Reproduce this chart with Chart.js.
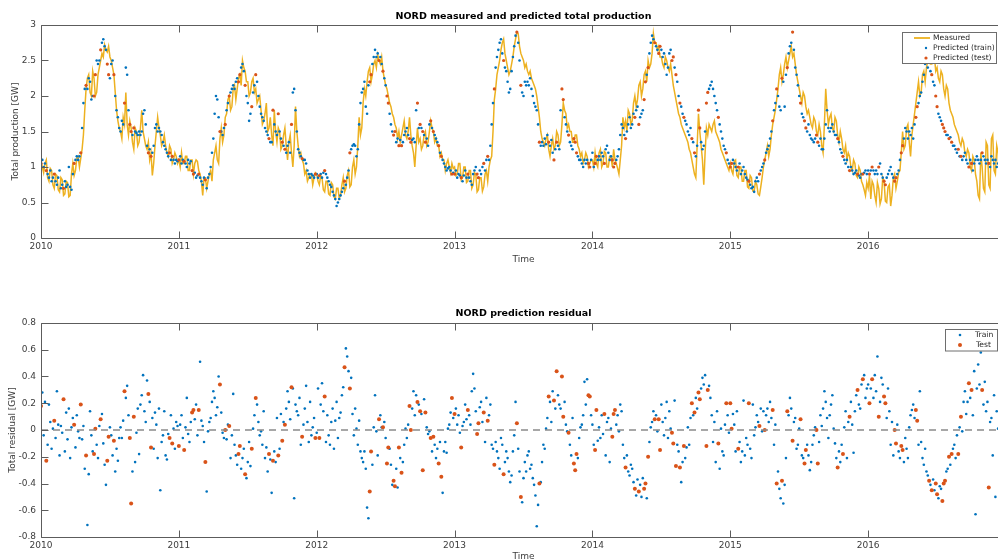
<!DOCTYPE html>
<html><head><meta charset="utf-8">
<script src="https://cdn.jsdelivr.net/npm/chart.js@4/dist/chart.umd.min.js"></script>
<style>
html,body{margin:0;padding:0;background:#fff;width:998px;height:560px;overflow:hidden;}
#wrap{position:relative;width:1012px;height:560px;}
canvas{display:block;position:absolute;left:0;}
#c1{top:0;}
#c2{top:280px;}
</style></head><body>
<div id="wrap"><canvas id="c1" width="1012" height="280"></canvas><canvas id="c2" width="1012" height="290"></canvas></div>
<script>
const START_YEAR = 2010;
const END_YEAR = 2017;
const MEASURED_PER_YEAR = 104;
const PREDICTED_PER_YEAR = 104;
const yearTicks = [2010, 2011, 2012, 2013, 2014, 2015, 2016, 2017];
const productionTicks = [0, 0.5, 1, 1.5, 2, 2.5, 3];
const residualTicks = [-0.8, -0.6, -0.4, -0.2, 0, 0.2, 0.4, 0.6, 0.8];

// measured total production [GW], twice per week, 2010..2016
const measured = [
1.08,1.0,0.92,1.05,1.1,0.85,0.8,0.98,0.95,0.75,0.7,0.9,0.88,0.68,0.65,0.85,0.82,0.6,0.62,0.8,0.78,0.58,0.6,0.9,1.05,0.88,0.95,1.12,1.15,1.0,1.12,1.25,1.45,1.8,2.1,2.25,2.3,2.05,2.0,2.35,2.25,2.0,2.05,2.3,2.4,2.5,2.6,2.55,2.72,2.65,2.62,2.7,2.55,2.5,2.4,2.3,2.05,1.8,1.65,1.55,1.5,1.4,1.7,1.6,2.05,1.6,1.45,1.65,1.55,1.35,1.25,1.55,1.5,1.3,1.35,1.55,1.8,1.5,1.4,1.3,1.25,1.35,1.1,1.2,0.88,1.05,1.3,1.5,1.7,1.55,1.45,1.3,1.35,1.45,1.3,1.2,1.15,1.3,1.25,1.05,1.1,1.2,1.15,1.05,
1.1,1.0,1.2,1.05,1.05,1.15,1.15,0.95,0.95,1.1,1.1,0.9,1.05,1.1,1.08,0.95,0.9,0.8,0.6,0.85,0.85,0.7,0.8,0.9,0.95,0.8,1.1,1.2,1.3,1.1,1.05,1.4,1.55,1.35,1.45,1.7,1.75,1.95,2.0,1.8,1.85,2.1,2.15,1.95,2.1,2.25,2.3,2.15,2.5,2.4,2.35,2.2,2.2,2.0,2.05,2.2,2.25,2.05,2.1,1.9,1.95,2.0,1.8,1.6,1.65,1.75,1.9,1.5,1.55,1.7,1.45,1.3,1.8,1.5,1.35,1.55,1.5,1.25,1.3,1.45,1.55,1.3,1.1,1.35,1.45,1.2,1.0,1.3,1.85,1.5,1.3,1.15,1.2,1.1,1.05,0.9,0.95,0.8,0.85,0.9,0.9,0.75,0.85,0.92,
0.9,0.8,0.75,0.88,0.85,0.68,0.65,0.8,0.8,0.62,0.6,0.78,0.75,0.58,0.55,0.7,0.7,0.56,0.6,0.75,0.85,0.65,0.7,0.88,0.95,0.72,0.75,1.0,1.1,0.9,1.0,1.3,1.7,1.45,1.55,1.9,2.1,2.0,2.2,2.35,2.4,2.2,2.3,2.45,2.5,2.4,2.58,2.5,2.45,2.55,2.35,2.25,2.15,2.1,2.0,1.9,1.85,1.75,1.7,1.6,1.55,1.4,1.5,1.35,1.45,1.55,1.65,1.45,1.4,1.5,1.7,1.45,1.3,1.2,1.0,1.3,1.55,1.35,1.4,1.25,1.3,1.45,1.5,1.3,1.35,1.5,1.65,1.55,1.5,1.35,1.4,1.3,1.3,1.15,1.2,1.1,1.1,0.95,1.05,1.1,1.0,0.92,1.05,0.98,
1.0,0.88,0.9,1.05,1.05,0.82,0.85,1.0,1.0,0.78,0.8,0.95,0.95,0.7,0.75,0.92,0.9,0.65,0.68,0.85,0.85,0.66,0.72,0.9,0.95,0.8,1.0,1.1,1.15,1.5,1.95,2.1,2.3,2.4,2.5,2.65,2.75,2.8,2.6,2.5,2.4,2.3,2.35,2.45,2.55,2.7,2.8,2.9,2.88,2.7,2.6,2.55,2.5,2.4,2.45,2.35,2.3,2.35,2.25,2.2,2.15,2.1,2.0,1.85,1.7,1.5,1.4,1.35,1.3,1.4,1.45,1.25,1.15,1.3,1.4,1.25,1.3,1.5,1.45,1.3,1.35,1.6,1.9,1.8,1.75,1.55,1.6,1.5,1.5,1.35,1.35,1.45,1.45,1.3,1.25,1.15,1.2,1.05,1.1,1.2,1.15,1.0,1.05,1.1,
1.1,1.0,1.2,1.05,1.0,1.2,1.25,1.0,1.05,1.22,1.2,1.0,1.0,1.15,1.15,1.0,1.25,1.1,1.05,0.98,0.9,1.1,1.3,1.7,1.55,1.65,1.5,1.8,1.75,1.6,1.65,1.9,2.0,1.85,1.95,2.15,2.2,2.0,2.1,2.3,2.35,2.2,2.5,2.4,2.45,2.6,2.88,2.75,2.75,2.65,2.7,2.55,2.55,2.45,2.4,2.55,2.5,2.4,2.35,2.45,2.3,2.15,2.05,1.95,1.85,1.75,1.7,1.6,1.55,1.5,1.45,1.4,1.35,1.25,1.2,1.1,1.0,0.9,0.85,1.3,1.75,1.5,1.3,1.1,0.75,1.2,1.55,1.45,1.6,1.55,1.5,1.6,1.65,1.5,1.45,1.4,1.35,1.25,1.2,1.15,1.1,1.05,1.0,0.95,
1.05,0.95,0.9,1.08,1.1,0.88,0.85,1.0,1.0,0.8,0.8,0.95,0.95,0.72,0.7,0.88,0.85,0.66,0.65,0.8,0.75,0.62,0.6,0.72,0.85,1.0,1.1,1.2,1.3,1.15,1.25,1.45,1.6,1.7,1.8,1.95,2.1,2.3,2.4,2.2,2.3,2.45,2.55,2.4,2.5,2.6,2.7,2.55,2.6,2.45,2.3,2.2,2.1,2.0,1.9,2.05,2.0,1.85,1.75,1.8,1.7,1.6,1.55,1.7,1.65,1.5,1.45,1.6,1.5,1.3,1.2,1.6,2.1,1.8,1.6,1.7,1.75,1.55,1.5,1.7,1.65,1.45,1.35,1.5,1.4,1.25,1.2,1.3,1.1,1.2,1.15,1.0,0.95,1.1,1.05,0.88,0.85,1.0,0.95,0.8,0.75,0.68,0.6,0.78,
0.7,0.88,0.55,0.8,0.75,0.6,0.5,0.78,0.7,0.48,0.55,0.85,0.8,0.52,0.5,0.72,0.75,0.45,0.6,0.85,0.9,0.7,0.8,0.92,0.95,1.2,1.5,1.25,1.3,1.55,1.6,1.35,1.15,1.45,1.6,1.75,1.9,2.05,2.2,2.0,2.05,2.3,2.35,2.2,2.4,2.5,2.6,2.45,2.45,2.6,2.55,2.35,2.4,2.25,2.2,2.35,2.3,2.1,2.0,2.15,2.1,1.9,1.8,1.75,1.7,1.6,1.55,1.5,1.45,1.35,1.3,1.4,1.35,1.2,1.15,1.25,1.2,1.0,0.95,1.15,1.1,0.9,0.8,0.6,0.55,1.2,1.0,0.7,0.65,1.35,1.3,0.75,0.7,1.4,1.45,0.95,0.9,1.3,1.2,0.8,0.85,1.1,1.0,1.15
];

// predicted total production [GW], twice per week, 2010..2016
const predicted = [
1.05,1.1,1.0,1.05,0.95,0.9,0.85,0.95,0.8,0.85,0.9,0.8,0.75,0.85,0.95,0.7,0.75,0.7,0.8,0.72,0.75,1.0,0.72,0.68,0.9,1.05,1.1,1.15,1.1,1.15,1.2,1.55,1.9,2.1,2.15,2.1,2.25,2.2,1.95,2.0,2.0,2.3,2.5,2.45,2.5,2.65,2.75,2.8,2.7,2.65,2.45,2.3,2.25,2.45,2.5,2.3,2.0,1.8,1.7,1.55,1.5,1.65,1.6,1.9,2.4,2.3,1.8,1.6,1.5,1.45,1.55,1.5,1.48,1.45,1.5,1.45,1.5,1.75,1.8,1.6,1.3,1.2,1.25,1.15,1.2,1.3,1.55,1.6,1.5,1.55,1.5,1.45,1.35,1.3,1.25,1.2,1.15,1.2,1.1,1.15,1.1,1.05,1.1,1.08,
1.1,1.15,1.05,1.1,1.08,1.05,1.0,1.1,1.05,1.08,0.95,0.9,0.92,0.85,0.88,0.9,0.85,0.8,0.75,0.85,0.82,0.7,0.85,0.9,1.0,1.2,1.4,1.75,2.0,1.95,1.7,1.5,1.5,1.45,1.55,1.6,1.8,1.9,2.0,2.05,2.1,2.15,2.1,2.2,2.25,2.2,2.3,2.4,2.45,2.35,2.15,2.0,1.9,1.65,1.75,1.85,2.05,2.15,2.3,2.2,2.0,1.85,1.75,1.7,1.65,1.55,1.5,1.45,1.4,1.35,1.35,1.8,1.6,1.5,1.45,1.75,1.5,1.4,1.35,1.3,1.25,1.2,1.3,1.35,1.2,1.6,2.05,2.1,1.8,1.5,1.25,1.2,1.15,1.12,1.1,1.1,1.05,0.95,0.9,0.85,0.9,0.88,0.85,0.9,
0.9,0.85,0.88,0.9,0.85,0.92,0.95,0.9,0.85,0.8,0.75,0.72,0.65,0.6,0.55,0.45,0.5,0.55,0.6,0.65,0.7,0.8,0.75,0.85,0.95,1.2,1.25,1.3,1.32,1.3,1.15,1.25,1.6,1.9,2.05,2.1,2.2,1.85,1.75,2.15,2.2,2.3,2.45,2.55,2.65,2.55,2.6,2.5,2.55,2.45,2.35,2.25,2.15,2.0,1.9,1.75,1.6,1.5,1.45,1.5,1.35,1.4,1.3,1.38,1.3,1.35,1.45,1.5,1.55,1.45,1.4,1.35,1.38,1.4,1.35,1.8,1.9,1.55,1.6,1.55,1.5,1.45,1.35,1.4,1.3,1.6,1.65,1.55,1.5,1.45,1.4,1.35,1.3,1.2,1.15,1.1,1.05,1.0,0.95,0.98,1.0,0.95,0.9,0.92,
0.9,0.95,0.85,0.9,0.88,0.85,0.8,0.88,0.95,0.85,0.9,0.85,0.8,0.75,0.9,0.95,1.0,0.9,0.85,0.95,0.9,1.0,1.05,0.95,1.1,1.15,1.1,1.3,1.6,1.9,2.1,2.4,2.55,2.65,2.75,2.8,2.6,2.5,2.4,2.35,2.2,2.05,2.1,2.35,2.55,2.7,2.85,2.9,2.75,2.5,2.15,2.05,2.0,2.2,2.15,2.2,2.15,2.25,2.1,2.0,1.9,1.85,1.8,1.6,1.35,1.3,1.35,1.3,1.4,1.32,1.45,1.35,1.3,1.38,1.2,1.1,1.25,1.35,1.3,1.25,1.8,2.1,1.95,1.7,1.6,1.5,1.45,1.35,1.3,1.25,1.4,1.35,1.2,1.15,1.1,1.1,1.05,1.0,1.1,1.05,1.1,1.05,1.0,1.1,
1.2,1.0,1.05,1.15,1.1,1.15,1.1,1.2,1.15,1.05,1.25,1.3,1.2,1.1,1.15,1.1,1.0,1.05,1.1,1.15,1.25,1.45,1.6,1.55,1.45,1.4,1.5,1.6,1.7,1.55,1.6,1.75,1.7,1.8,1.85,1.6,1.7,1.75,1.8,1.95,2.2,2.3,2.4,2.6,2.75,2.85,2.8,2.75,2.7,2.65,2.6,2.7,2.65,2.55,2.6,2.45,2.3,2.4,2.6,2.65,2.5,2.55,2.4,2.3,2.2,2.0,1.9,1.85,1.75,1.7,1.65,1.6,1.5,1.45,1.55,1.4,1.35,1.2,1.15,1.3,1.8,1.55,1.35,1.25,1.3,1.5,1.9,2.05,2.1,2.15,2.2,2.1,2.0,1.9,1.8,1.7,1.6,1.5,1.4,1.3,1.25,1.2,1.1,1.05,
1.0,1.05,1.1,1.05,1.0,0.95,1.0,1.05,0.9,0.95,1.0,0.9,0.85,0.82,0.8,0.75,0.7,0.72,0.65,0.8,0.85,0.8,0.9,0.95,1.0,1.05,1.1,1.2,1.25,1.3,1.4,1.5,1.65,1.8,1.9,2.1,2.0,1.85,1.8,2.25,2.2,1.85,2.3,2.4,2.6,2.7,2.75,2.9,2.65,2.4,2.3,2.15,2.0,1.9,1.75,1.7,1.65,1.55,1.5,1.6,1.45,1.4,1.38,1.35,1.4,1.45,1.35,1.3,1.4,1.25,1.25,1.4,1.6,1.8,1.55,1.5,1.55,1.6,1.5,1.45,1.45,1.4,1.35,1.25,1.2,1.15,1.1,1.05,1.1,1.0,0.95,1.0,0.95,0.9,0.92,0.95,0.9,0.88,0.85,0.9,0.9,0.92,0.95,0.9,
0.95,0.9,0.95,1.0,0.95,0.9,0.95,0.9,1.0,1.05,0.9,0.85,0.8,0.75,0.85,0.9,0.95,1.0,0.9,0.85,0.8,0.85,0.9,0.95,1.1,1.2,1.3,1.4,1.55,1.5,1.4,1.5,1.45,1.55,1.4,1.6,1.7,1.85,1.9,2.0,2.05,2.2,2.3,2.45,2.55,2.4,2.5,2.35,2.3,2.2,2.15,2.0,1.85,1.75,1.7,1.65,1.6,1.55,1.5,1.45,1.45,1.4,1.42,1.35,1.3,1.3,1.25,1.2,1.25,1.15,1.15,1.1,1.15,1.2,1.1,1.05,1.0,1.1,1.05,0.95,1.05,1.1,1.15,1.1,1.05,1.1,1.2,1.15,1.1,1.05,1.1,1.05,1.0,1.15,1.1,1.05,1.1,1.0,1.05,1.1,1.05,1.0,1.1,1.05
];

// prediction residual [GW], same time points as predicted
const residual = [
0.18,0.28,-0.04,0.21,-0.23,-0.11,0.19,0.06,-0.14,0.01,0.07,-0.06,0.29,0.04,-0.19,0.03,-0.02,0.23,-0.16,0.13,-0.07,0.16,-0.21,0.02,0.09,0.04,-0.13,0.11,-0.01,-0.06,0.19,-0.07,0.03,-0.29,-0.19,-0.71,-0.33,0.14,-0.04,-0.16,-0.18,0.01,-0.11,-0.21,0.03,0.08,0.12,-0.1,-0.26,-0.41,-0.23,-0.05,0.02,-0.04,-0.19,-0.08,-0.31,-0.14,-0.23,-0.06,0.02,-0.06,0.07,0.29,0.24,0.33,0.11,-0.06,-0.55,-0.31,0.1,-0.24,-0.02,0.16,-0.18,0.19,0.26,0.41,0.14,0.06,0.37,0.27,0.21,-0.13,0.09,-0.14,0.13,0.04,-0.21,0.16,-0.45,-0.09,-0.04,0.14,-0.19,-0.22,-0.03,-0.06,0.11,-0.1,0.01,-0.14,0.06,0.03,
-0.12,0.04,0.11,-0.06,-0.15,0.02,0.24,-0.03,-0.09,0.06,0.13,0.15,0.08,0.19,-0.04,0.15,0.51,0.07,0.03,-0.09,-0.24,-0.46,-0.01,0.06,0.09,0.21,0.29,0.24,0.11,0.17,0.4,0.34,0.13,-0.02,-0.06,0.0,-0.07,0.04,0.03,-0.21,-0.04,0.27,-0.11,-0.19,-0.26,-0.18,-0.12,-0.29,-0.21,-0.14,-0.33,-0.36,-0.24,-0.09,-0.27,-0.14,0.01,0.11,0.24,0.19,0.06,-0.04,-0.01,-0.11,0.14,-0.21,-0.13,-0.31,-0.18,-0.22,-0.47,-0.23,-0.16,-0.24,0.09,-0.19,-0.14,0.12,-0.08,0.06,0.04,0.16,0.29,0.21,0.08,0.32,0.31,-0.51,0.19,0.14,0.11,0.24,-0.11,-0.05,0.04,0.16,0.33,0.06,-0.09,0.21,-0.04,0.02,0.09,-0.06,
-0.02,0.31,-0.06,0.19,0.35,0.14,0.25,-0.09,0.11,-0.04,-0.11,0.06,0.16,-0.14,0.07,0.21,-0.06,0.09,0.13,0.26,0.32,0.47,0.61,0.55,0.44,0.31,0.39,0.12,-0.04,0.16,0.01,-0.11,0.07,-0.16,-0.21,-0.24,-0.16,-0.29,-0.58,-0.66,-0.46,-0.16,-0.26,0.02,0.26,-0.01,-0.19,0.08,0.11,0.02,0.02,0.06,-0.06,-0.25,-0.13,-0.14,-0.26,-0.41,-0.38,-0.42,-0.29,-0.43,-0.13,-0.21,-0.32,-0.24,-0.11,0.01,-0.06,0.04,0.18,0.0,0.16,0.29,0.11,0.26,0.21,0.19,0.14,0.12,-0.3,0.23,0.13,0.02,-0.03,-0.01,-0.06,-0.16,-0.05,-0.11,-0.21,-0.14,-0.25,-0.09,-0.35,-0.47,-0.16,-0.09,-0.17,0.01,0.04,0.13,0.24,0.09,
0.12,0.16,0.04,0.11,-0.02,-0.13,0.03,0.06,0.19,0.08,0.15,0.11,0.04,0.29,0.42,0.31,0.14,-0.03,0.05,0.17,0.21,0.06,0.13,-0.09,0.24,0.07,0.11,0.19,-0.11,-0.14,-0.26,-0.09,-0.16,-0.21,-0.29,-0.06,-0.11,-0.33,-0.24,-0.16,-0.21,-0.31,-0.39,-0.34,-0.16,-0.04,0.21,0.05,-0.14,-0.31,-0.5,-0.54,-0.36,-0.24,-0.31,-0.19,-0.16,-0.29,-0.26,-0.36,-0.41,-0.49,-0.72,-0.56,-0.4,-0.39,-0.24,-0.11,-0.14,0.01,0.09,0.25,0.21,0.06,0.29,0.22,0.16,0.44,0.26,0.19,0.16,0.4,0.1,0.21,0.04,-0.01,-0.02,-0.11,-0.19,0.09,-0.25,-0.3,-0.18,-0.21,-0.06,0.02,0.04,0.11,0.36,0.19,0.38,0.26,0.25,0.11,
0.04,-0.11,-0.15,0.15,-0.08,0.02,-0.06,0.11,-0.03,0.12,-0.19,0.06,0.09,-0.24,0.01,-0.05,0.12,0.15,0.04,0.11,-0.01,0.19,0.14,-0.11,-0.21,-0.28,-0.19,-0.31,-0.34,-0.26,-0.29,-0.39,-0.44,-0.49,-0.37,-0.46,-0.41,-0.5,-0.36,-0.44,-0.4,-0.51,-0.2,-0.09,0.02,0.06,0.14,0.08,0.11,-0.01,0.08,-0.15,0.19,0.06,-0.04,0.09,0.21,-0.06,0.14,0.01,-0.02,-0.1,0.22,-0.27,-0.11,-0.16,-0.28,-0.39,-0.24,-0.12,-0.21,-0.13,0.02,-0.11,0.09,0.2,0.11,0.13,0.24,0.16,0.28,0.23,0.31,0.39,0.34,0.41,-0.12,0.3,0.33,0.24,0.11,-0.09,0.06,-0.24,0.14,-0.1,-0.29,0.01,-0.16,-0.19,0.04,0.2,0.11,-0.02,
0.2,0.01,0.12,0.04,-0.16,0.14,-0.14,-0.09,-0.24,-0.16,0.22,-0.19,-0.06,-0.11,0.2,-0.14,-0.21,0.19,-0.04,0.02,0.11,0.06,0.03,0.16,-0.01,0.14,0.0,0.11,0.16,0.06,0.21,0.09,0.15,-0.11,0.04,-0.4,-0.31,-0.44,-0.51,-0.38,-0.55,-0.41,-0.21,0.14,0.11,0.24,0.16,-0.08,0.06,0.09,-0.14,-0.11,0.01,0.08,-0.19,-0.21,-0.25,-0.15,-0.11,-0.19,-0.3,-0.24,-0.11,-0.04,0.02,0.0,-0.25,-0.09,0.11,0.03,0.16,0.29,0.21,0.09,-0.06,0.11,0.19,0.26,0.01,-0.1,-0.21,-0.28,-0.16,-0.24,-0.11,-0.18,0.02,0.14,-0.21,0.06,0.1,0.21,0.04,-0.17,0.14,0.26,0.3,0.19,0.16,0.34,0.38,0.41,0.24,0.31,
0.34,0.2,0.31,0.38,0.24,0.41,0.29,0.55,0.1,0.21,0.39,0.34,0.25,0.2,0.09,0.31,0.14,-0.11,0.06,-0.19,0.0,-0.1,0.04,-0.16,-0.21,-0.12,-0.15,-0.24,-0.06,-0.14,-0.21,0.02,0.11,0.15,0.19,0.09,0.15,0.07,-0.11,0.29,-0.09,-0.21,-0.26,-0.14,-0.31,-0.34,-0.38,-0.41,-0.45,-0.37,-0.45,-0.4,-0.48,-0.51,-0.42,-0.44,-0.53,-0.4,-0.38,-0.31,-0.29,-0.2,-0.26,-0.18,-0.14,-0.11,-0.21,-0.04,-0.18,0.02,0.1,-0.01,0.21,0.29,0.12,0.21,0.35,0.24,0.3,0.11,0.44,-0.63,0.31,0.49,0.34,0.58,0.3,0.19,0.36,0.14,0.21,-0.43,0.06,0.09,-0.19,0.26,-0.5,0.14,0.01,-0.11,0.09,0.21,-0.06,0.15
];

// indices (into predicted / residual) of test-set points
const testIndex = [
0,4,10,17,25,30,34,40,41,45,50,51,55,63,67,68,70,81,83,97,99,
104,108,114,115,119,124,135,139,142,149,150,154,159,162,172,175,179,182,184,189,197,207,
210,214,229,233,248,249,255,258,261,262,266,267,270,272,278,279,284,286,288,290,294,296,300,302,310,
312,317,322,329,330,334,337,342,349,359,362,376,383,387,389,393,394,398,402,403,404,413,414,
418,419,425,431,432,433,441,448,451,455,456,458,463,466,467,476,477,479,482,485,491,493,496,497,502,503,511,517,
520,521,526,534,542,546,552,555,559,563,567,573,576,577,585,586,601,605,610,616,620,
625,627,632,636,637,644,645,649,650,660,661,670,672,675,676,680,681,682,685,687,692,694,700,702,710,715
];

const C_MEAS = '#EDB120', C_TRAIN = '#0072BD', C_TEST = '#D95319';
const FONT = 'DejaVu Sans';
const TXT = '#3c3c3c';

const testSet = new Set(testIndex);
const measuredPts = measured.map((v, i) => ({x: START_YEAR + i / MEASURED_PER_YEAR, y: v}));
const predTrain = [], predTest = [], resTrain = [], resTest = [];
predicted.forEach((v, i) => {
  const x = START_YEAR + i / PREDICTED_PER_YEAR;
  if (testSet.has(i)) { predTest.push({x, y: v}); resTest.push({x, y: residual[i]}); }
  else { predTrain.push({x, y: v}); resTrain.push({x, y: residual[i]}); }
});

function fmt(v) { return String(Math.round(v * 10) / 10); }

function xScale(h, titlePadBottom) {
  return {
    type: 'linear', min: START_YEAR, max: END_YEAR,
    afterBuildTicks: s => { s.ticks = yearTicks.map(v => ({value: v})); },
    ticks: { callback: v => (v === END_YEAR ? '' : String(v)), font: {family: FONT, size: 9}, color: TXT, padding: 3, maxRotation: 0, autoSkip: false },
    grid: { display: false, drawTicks: false }, border: { display: false },
    title: { display: true, text: 'Time', font: {family: FONT, size: 9}, color: TXT, padding: {top: 0, bottom: titlePadBottom} },
    afterFit: s => { s.height = h; }
  };
}
function yScale(min, max, tickVals, label, titlePadTop) {
  return {
    type: 'linear', min, max,
    afterBuildTicks: s => { s.ticks = tickVals.map(v => ({value: v})); },
    ticks: { callback: v => fmt(v), font: {family: FONT, size: 9}, color: TXT, padding: 5, autoSkip: false },
    grid: { display: false, drawTicks: false }, border: { display: false },
    title: { display: true, text: label, font: {family: FONT, size: 9}, color: TXT, padding: {top: titlePadTop, bottom: 0} },
    afterFit: s => { s.width = 41; }
  };
}

const boxPlugin = {
  id: 'matlabBox',
  afterDatasetsDraw(chart) {
    const {ctx, chartArea: a, scales: {x, y}} = chart;
    const L = Math.round(a.left) + 0.5, R = Math.round(a.right) + 0.5, T = Math.round(a.top) + 0.5, B = Math.round(a.bottom) + 0.5;
    ctx.save();
    ctx.strokeStyle = '#5c5c5c'; ctx.lineWidth = 1;
    ctx.beginPath();
    ctx.rect(L, T, R - L, B - T);
    x.ticks.forEach(t => { const p = Math.round(x.getPixelForValue(t.value)) + 0.5; ctx.moveTo(p, B); ctx.lineTo(p, B - 7); ctx.moveTo(p, T); ctx.lineTo(p, T + 7); });
    y.ticks.forEach(t => { const p = Math.round(y.getPixelForValue(t.value)) + 0.5; ctx.moveTo(L, p); ctx.lineTo(L + 7, p); ctx.moveTo(R, p); ctx.lineTo(R - 7, p); });
    ctx.stroke();
    ctx.restore();
  }
};

function legendPlugin(box, items) {
  return {
    id: 'boxLegend',
    afterDraw(chart) {
      const ctx = chart.ctx;
      ctx.save();
      ctx.fillStyle = '#fff';
      ctx.fillRect(box.x, box.y, box.w, box.h);
      ctx.strokeStyle = '#6e6e6e'; ctx.lineWidth = 1;
      ctx.strokeRect(box.x, box.y, box.w, box.h);
      ctx.font = '7.6px "' + FONT + '"';
      ctx.textBaseline = 'middle'; ctx.textAlign = 'left';
      items.forEach(it => {
        if (it.kind === 'line') {
          ctx.strokeStyle = it.color; ctx.lineWidth = 1.8;
          ctx.beginPath(); ctx.moveTo(it.mx - 12, it.y); ctx.lineTo(it.mx + 4, it.y); ctx.stroke();
        } else {
          ctx.fillStyle = it.color;
          ctx.beginPath(); ctx.arc(it.mx, it.y, it.r, 0, Math.PI * 2); ctx.fill();
        }
        ctx.fillStyle = '#262626';
        ctx.fillText(it.text, it.tx, it.y);
      });
      ctx.restore();
    }
  };
}

Chart.defaults.font.family = FONT;

new Chart(document.getElementById('c1'), {
  type: 'scatter',
  data: { datasets: [
    { label: 'Measured', data: measuredPts, showLine: true, borderColor: C_MEAS, backgroundColor: C_MEAS, borderWidth: 1.5, pointRadius: 0, tension: 0, order: 3 },
    { label: 'Predicted (train)', data: predTrain, backgroundColor: C_TRAIN, borderWidth: 0, pointRadius: 1.3, order: 2 },
    { label: 'Predicted (test)', data: predTest, backgroundColor: C_TEST, borderWidth: 0, pointRadius: 1.6, order: 1 }
  ]},
  options: {
    responsive: false, animation: false, devicePixelRatio: 1, events: [],
    layout: { padding: {left: 0, right: 6, top: 0, bottom: 0} },
    plugins: {
      legend: { display: false }, tooltip: { enabled: false },
      title: { display: true, text: 'NORD measured and predicted total production', fullSize: false, color: '#000', font: {family: FONT, size: 9.5, weight: 'bold'}, padding: {top: 11.3, bottom: 2.3} }
    },
    scales: { x: xScale(42, 14.6), y: yScale(0, 3, productionTicks, 'Total production [GW]', 10.6) }
  },
  plugins: [boxPlugin, legendPlugin({x: 902.5, y: 32.5, w: 94, h: 31}, [
    {kind: 'line', color: C_MEAS, mx: 926, y: 38, text: 'Measured', tx: 933},
    {kind: 'dot', color: C_TRAIN, r: 1.2, mx: 926, y: 48, text: 'Predicted (train)', tx: 933},
    {kind: 'dot', color: C_TEST, r: 1.6, mx: 926, y: 58, text: 'Predicted (test)', tx: 933}
  ])]
});

new Chart(document.getElementById('c2'), {
  type: 'scatter',
  data: { datasets: [
    { label: 'Train', data: resTrain, backgroundColor: C_TRAIN, borderWidth: 0, pointRadius: 1.3, order: 2 },
    { label: 'Test', data: resTest, backgroundColor: C_TEST, borderWidth: 0, pointRadius: 2.0, order: 1 },
    { label: 'zero', data: [{x: START_YEAR, y: 0}, {x: END_YEAR, y: 0}], showLine: true, borderColor: '#8a8a8a', borderWidth: 1.5, borderDash: [7, 5], pointRadius: 0, order: 0 }
  ]},
  options: {
    responsive: false, animation: false, devicePixelRatio: 1, events: [],
    layout: { padding: {left: 0, right: 6, top: 0, bottom: 0} },
    plugins: {
      legend: { display: false }, tooltip: { enabled: false },
      title: { display: true, text: 'NORD prediction residual', fullSize: false, color: '#000', font: {family: FONT, size: 9.5, weight: 'bold'}, padding: {top: 28.3, bottom: 3.3} }
    },
    scales: { x: xScale(33, 7.6), y: yScale(-0.8, 0.8, residualTicks, 'Total residual [GW]', 7.5) }
  },
  plugins: [boxPlugin, legendPlugin({x: 945.5, y: 49.5, w: 52, h: 21.5}, [
    {kind: 'dot', color: C_TRAIN, r: 1.3, mx: 960, y: 55, text: 'Train', tx: 975},
    {kind: 'dot', color: C_TEST, r: 2, mx: 960, y: 65, text: 'Test', tx: 976}
  ])]
});
</script>
</body></html>
